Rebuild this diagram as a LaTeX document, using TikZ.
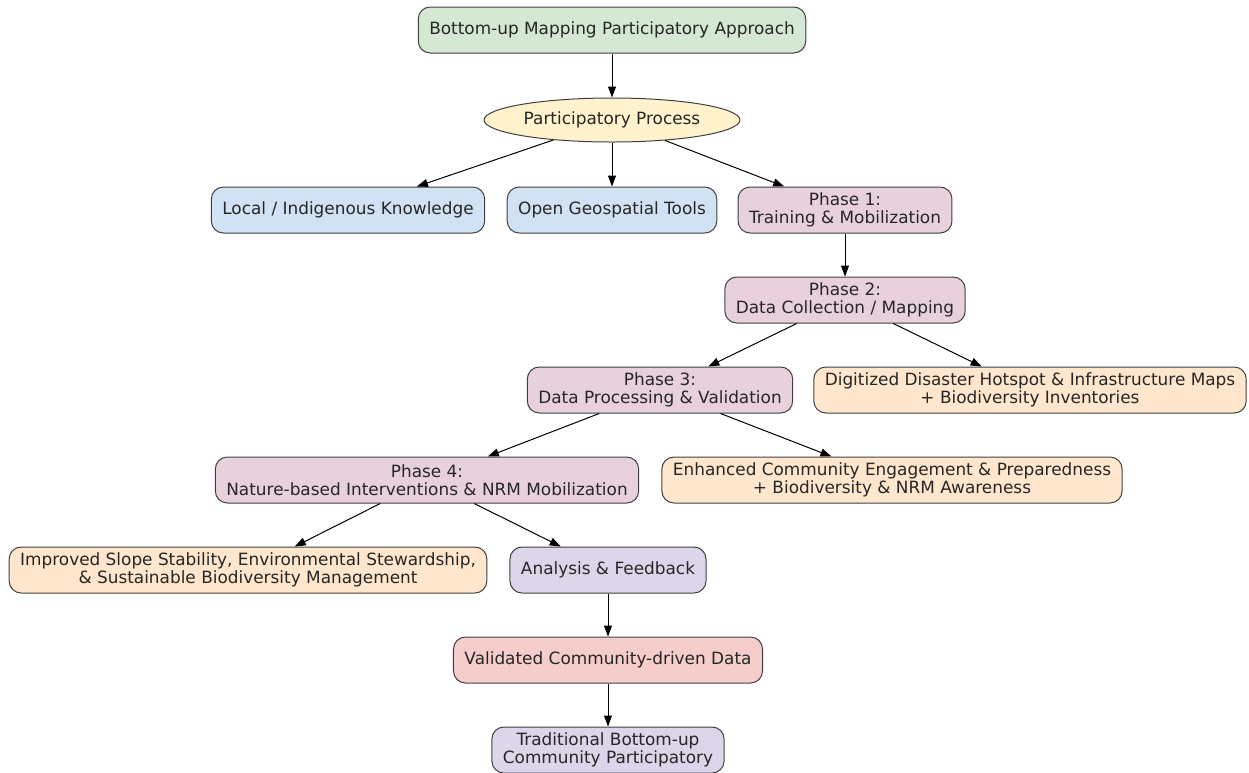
\documentclass[tikz,border=0pt]{standalone}
\usepackage{fontspec}
\setmainfont{DejaVu Sans}
\usetikzlibrary{shapes.geometric, positioning, arrows.meta}
\definecolor{startgreen}{HTML}{D5E8D4}
\definecolor{ovalyellow}{HTML}{FFF2CC}
\definecolor{inputblue}{HTML}{D0E2F3}
\definecolor{phasepink}{HTML}{E8D1DD}
\definecolor{outpeach}{HTML}{FFE6CC}
\definecolor{loopviolet}{HTML}{DDD5E9}
\definecolor{datared}{HTML}{F5CDCB}
\tikzset{
->, % every connector is directed
>={Triangle[length=11pt, width=8pt]}, % filled heads
draw=black!80, % dark grey lines
node distance=90pt, % rows are 90pt apart. Change if necessary.
every node/.style={font=\fontsize{16.9}{18.5}\selectfont, text=black!85},
box/.style={draw=black!75, line width=1pt, rounded corners=12pt, minimum height=46pt, inner xsep=11pt, inner ysep=0pt, align=center}, % the rounded boxes
oval/.style={ellipse, draw=black!75, line width=1pt, fill=ovalyellow, minimum width=256pt, minimum height=44pt, inner sep=0pt}, % the process ellipse
phase/.style={box, fill=phasepink},
result/.style={box, fill=outpeach},
}

\begin{document}
\begin{tikzpicture}[line width=1pt]
\useasboundingbox (0,0) rectangle (1249pt,-772pt);

            \node[box, fill=startgreen] (top) at (612pt,-30pt) {Bottom-up Mapping Participatory Approach};
            \node[oval, below of=top] (proc) {Participatory Process};
            \node[box, fill=inputblue, below of=proc, xshift=-264pt] (local) {Local / Indigenous Knowledge};
            \node[box, fill=inputblue, below of=proc] (tools) {Open Geospatial Tools};
            \node[phase, below of=proc, xshift=233pt] (p1) {Phase 1:\\Training \& Mobilization};
            \node[phase, below of=p1] (p2) {Phase 2:\\Data Collection / Mapping};
            \node[phase, below of=p2, xshift=-185pt] (p3) {Phase 3:\\Data Processing \& Validation};
            \node[result, below of=p2, xshift=185pt] (maps) {Digitized Disaster Hotspot \& Infrastructure Maps\\+ Biodiversity Inventories};
            \node[phase, below of=p3, xshift=-233pt] (p4) {Phase 4:\\Nature-based Interventions \& NRM Mobilization};
            \node[result, below of=p3, xshift=232pt] (engage) {Enhanced Community Engagement \& Preparedness\\+ Biodiversity \& NRM Awareness};
            \node[result, below of=p4, xshift=-179pt] (slope) {Improved Slope Stability, Environmental Stewardship,\\\& Sustainable Biodiversity Management};
            \node[box, fill=loopviolet, below of=p4, xshift=181pt] (feedback) {Analysis \& Feedback};
            \node[box, fill=datared, below of=feedback] (valid) {Validated Community-driven Data};
            \node[box, fill=loopviolet, below of=valid] (trad) {Traditional Bottom-up\\Community Participatory};

            \draw   (top) edge (proc)
                    (proc) edge (local)
                    (proc) edge (tools)
                    (proc) edge (p1)
                    (p1) edge (p2)
                    (p2) edge (p3)
                    (p2) edge (maps)
                    (p3) edge (p4)
                    (p3) edge (engage)
                    (p4) edge (slope)
                    (p4) edge (feedback)
                    (feedback) edge (valid)
                    (valid) edge (trad)
                    ;
        \end{tikzpicture}
\end{document}
